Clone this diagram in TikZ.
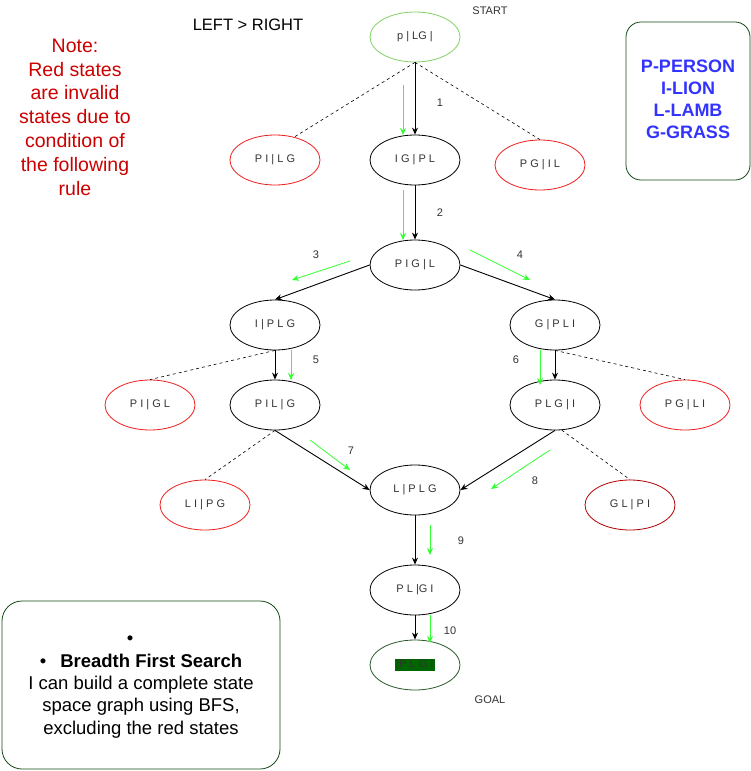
\documentclass[tikz,border=0pt]{standalone}
\usepackage{fontspec}
\setmainfont{Liberation Sans}
\usetikzlibrary{shapes.geometric,arrows.meta}
\definecolor{gr}{RGB}{51,255,51}
\definecolor{badred}{RGB}{240,30,30}
\definecolor{darkred}{RGB}{178,0,0}
\definecolor{notered}{RGB}{204,0,0}
\definecolor{startgreen}{RGB}{130,210,100}
\definecolor{goalgreen}{RGB}{40,90,40}
\definecolor{boxgreen}{RGB}{20,75,20}
\definecolor{hlgreen}{RGB}{0,102,0}
\definecolor{legblue}{RGB}{51,51,255}
\definecolor{txtgrey}{RGB}{51,51,51}
\begin{document}
\begin{tikzpicture}[x=1pt,y=-1pt,
  state/.style={ellipse, draw=black, line width=0.8pt, minimum width=90pt, minimum height=50pt, inner sep=0pt, font=\fontsize{11}{13}\selectfont, text=txtgrey},
  bad/.style={state, draw=badred},
  arr/.style={-{Stealth[length=7pt,width=6pt]}, line width=0.9pt},
  dsh/.style={dash pattern=on 3pt off 3pt, line width=0.6pt},
  garr/.style={-{Stealth[length=7pt,width=6pt]}, draw=gr, line width=0.8pt},
  num/.style={font=\fontsize{11}{13}\selectfont, text=txtgrey},
  lbl/.style={font=\fontsize{11}{13}\selectfont, text=txtgrey}
]
\useasboundingbox (0,0) rectangle (751,771);
\fill[white] (0,0) rectangle (751,771);

% states
\node[state, draw=startgreen] (start) at (415,37) {p | LG |};
\node[state] (igpl) at (415,160) {I G | P L};
\node[bad] (pilg) at (275,160) {P I | L G};
\node[bad] (pgil) at (540,165) {P G | I L};
\node[state] (pigl) at (415,265) {P I G | L};
\node[state] (iplg) at (275,325) {I | P L G};
\node[state] (gpli) at (555,325) {G | P L I};
\node[bad] (pigltwo) at (150,405) {P I | G L};
\node[state] (pilgtwo) at (275,405) {P I L | G};
\node[state] (plgi) at (555,405) {P L G | I};
\node[bad] (pgli) at (685,405) {P G | L I};
\node[bad] (lipg) at (205,505) {L I | P G};
\node[state] (lplg) at (415,490) {L | P L G};
\node[bad, draw=darkred] (glpi) at (630,505) {G L | P I};
\node[state] (plgitwo) at (415,590) {P L |G I};
\node[state, draw=goalgreen] (goal) at (415,665) {\setlength{\fboxsep}{1pt}\colorbox{hlgreen}{|P L G I}};

% black arrows
\draw[arr] (start.south) -- (igpl.north);
\draw[arr] (igpl.south) -- (pigl.north);
\draw[arr] (pigl.west) -- (iplg.north);
\draw[arr] (pigl.east) -- (gpli.north);
\draw[arr] (iplg.south) -- (pilgtwo.north);
\draw[arr] (gpli.south) -- (plgi.north);
\draw[arr] (pilgtwo.south) -- (lplg.west);
\draw[arr] (plgi.south) -- (lplg.east);
\draw[arr] (lplg.south) -- (plgitwo.north);
\draw[arr] (plgitwo.south) -- (goal.north);

% dashed lines to invalid states
\draw[dsh] (start.south) -- (pilg.50);
\draw[dsh] (start.south) -- (pgil.north);
\draw[dsh] (iplg.south) -- (pigltwo.north);
\draw[dsh] (gpli.south) -- (pgli.north);
\draw[dsh] (pilgtwo.south) -- (lipg.north);
\draw[dsh] (plgi.-75) -- (glpi.north);

% green arrows
\draw[garr] (403,85) -- (403,135);
\draw[garr] (403,190) -- (403,240);
\draw[garr] (350,261) -- (292,280);
\draw[garr] (470,250) -- (530,280);
\draw[garr] (291,350) -- (291,380);
\draw[garr] (540,350) -- (540,385);
\draw[garr] (310,440) -- (350,470);
\draw[garr] (550,450) -- (491,489);
\draw[garr] (430,525) -- (430,555);
\draw[garr] (430,615) -- (430,643);

% step numbers
\node[num] (n1) at (440,103) {1};
\node[num] (n2) at (440,213) {2};
\node[num] (n3) at (316,255) {3};
\node[num] (n4) at (520,255) {4};
\node[num] (n5) at (316,360) {5};
\node[num] (n6) at (516,360) {6};
\node[num] (n7) at (351,451) {7};
\node[num] (n8) at (535,481) {8};
\node[num] (n9) at (461,541) {9};
\node[num] (n10) at (450,631) {10};

\node[lbl] (startlbl) at (490,11) {START};
\node[lbl] (goallbl) at (490,700) {GOAL};
\node[font=\fontsize{16.5}{20}\selectfont] (lr) at (248,25) {LEFT > RIGHT};

% note
\node[text=notered, align=center, font=\fontsize{19.5}{23.8}\selectfont] (note) at (75,117)
  {Note:\\Red states\\are invalid\\states due to\\condition of\\the following\\rule};

% legend
\draw[boxgreen, line width=0.8pt, rounded corners=15pt] (626,22) rectangle (750,180);
\node[text=legblue, align=center, font=\bfseries\fontsize{18}{22}\selectfont] (legend) at (688,99)
  {P-PERSON\\I-LION\\L-LAMB\\G-GRASS};

% BFS box
\draw[boxgreen, line width=0.8pt, rounded corners=20pt] (2,601) rectangle (280,769);
\node[font=\fontsize{18.5}{22}\selectfont] (bul) at (130,640) {•};
\node[align=center, font=\fontsize{18.5}{22.3}\selectfont] (bfs) at (141,696)
  {•\hspace{14pt}\textbf{Breadth First Search}\\I can build a complete state\\space graph using BFS,\\excluding the red states};
\end{tikzpicture}
\end{document}
